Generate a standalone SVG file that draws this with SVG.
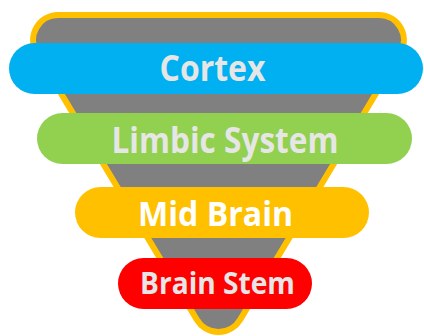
<svg xmlns="http://www.w3.org/2000/svg" width="424" height="336" viewBox="0 0 424 336">
  <style>
    .bar { stroke: none; }
    .lbl { font-family: "Open Sans", "Noto Sans", "Liberation Sans", sans-serif; font-weight: bold; text-anchor: middle; }
    .light { fill: #E7E6E6; }
    .white { fill: #FFFFFF; }
  </style>
  <g id="funnel">
    <path d="M 58.2 15 L 378.8 15 A 25 25 0 0 1 400.3 52.9 L 240.2 319.6 A 25.3 25.3 0 0 1 196.8 319.6 L 36.7 52.9 A 25 25 0 0 1 58.2 15 Z" fill="#808080" stroke="#FFC000" stroke-width="6" stroke-linejoin="round"/>
  </g>
  <g id="cortex">
    <rect class="bar" x="9" y="43" width="414" height="51" rx="25.5" fill="#00B0F0"/>
    <text class="lbl light" x="212.5" y="80.5" font-size="35" textLength="106" lengthAdjust="spacingAndGlyphs">Cortex</text>
  </g>
  <g id="limbic-system">
    <rect class="bar" x="37" y="113" width="375" height="51" rx="25.5" fill="#92D050"/>
    <text class="lbl light" x="225" y="153" font-size="36" textLength="227" lengthAdjust="spacingAndGlyphs">Limbic System</text>
  </g>
  <g id="mid-brain">
    <rect class="bar" x="75" y="187" width="294" height="51" rx="25.5" fill="#FFC000"/>
    <text class="lbl white" x="215.5" y="226" font-size="34" textLength="155" lengthAdjust="spacingAndGlyphs">Mid Brain</text>
  </g>
  <g id="brain-stem">
    <rect class="bar" x="118" y="258" width="194" height="51" rx="25.5" fill="#FF0000"/>
    <text class="lbl light" x="217.5" y="294" font-size="30" textLength="155" lengthAdjust="spacingAndGlyphs">Brain Stem</text>
  </g>
  <g id="connectors"></g>
</svg>
